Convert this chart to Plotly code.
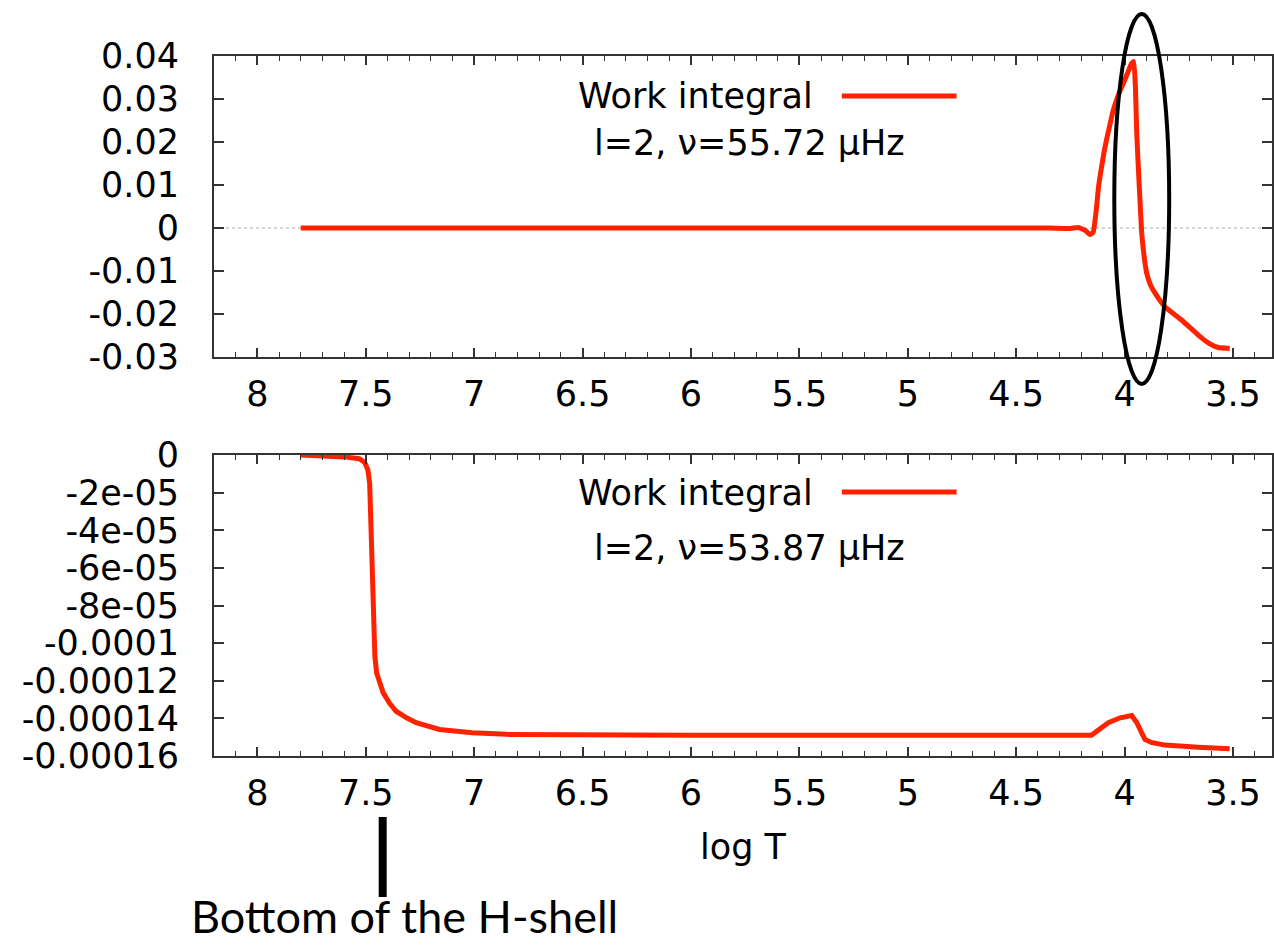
import plotly.graph_objects as go

# ---- data: cumulative work integral vs log T for two l=2 modes ----
top_logT = [7.80, 7.40, 7.00, 6.50, 6.00, 5.50, 5.00, 4.60, 4.35, 4.25, 4.213, 4.18,
            4.16, 4.145, 4.13, 4.12, 4.105, 4.09, 4.07, 4.052, 4.03, 4.006, 3.985,
            3.967, 3.958, 3.95, 3.944, 3.932, 3.921, 3.91,
            3.898, 3.88, 3.86, 3.814, 3.737, 3.66, 3.614, 3.568, 3.515]
top_work = [0.0, 0.0, 0.0, 0.0, 0.0, 0.0, 0.0, 0.0, 0.0, -0.0001, 0.0001, -0.0006,
            -0.0015, -0.001, 0.0045, 0.0096, 0.0145, 0.0189, 0.0235, 0.0274, 0.0308,
            0.0336, 0.0362, 0.0383, 0.0387, 0.0330, 0.0221, 0.0095, -0.0012, -0.0065,
            -0.0105, -0.0133, -0.0151, -0.0183, -0.0214, -0.0249, -0.0267, -0.0278, -0.0280]

bot_logT = [7.80, 7.70, 7.60, 7.53, 7.505, 7.49, 7.482, 7.478, 7.474, 7.470, 7.465,
            7.458, 7.45, 7.435, 7.42, 7.39, 7.36, 7.31, 7.267, 7.16, 7.01, 6.85,
            6.50, 6.00, 5.50, 5.00, 4.50, 4.20, 4.153, 4.075, 4.02, 3.967, 3.944,
            3.921, 3.906, 3.877, 3.814, 3.66, 3.515]
bot_work = [0.0, -0.4e-6, -1.0e-6, -2e-6, -4e-6, -8e-6, -1.5e-5, -3e-5, -5e-5, -7.5e-5, -9.5e-5,
            -0.000107, -0.0001157, -0.000122, -0.0001263, -0.000132, -0.0001362, -0.0001398,
            -0.0001423, -0.0001459, -0.0001477, -0.0001485,
            -0.0001489, -0.000149, -0.000149, -0.000149, -0.000149, -0.000149, -0.000149,
            -0.0001423, -0.0001397, -0.0001385, -0.0001422,
            -0.0001477, -0.0001512, -0.0001528, -0.0001542, -0.0001553, -0.0001561]

x_ticks = [8, 7.5, 7, 6.5, 6, 5.5, 5, 4.5, 4, 3.5]
x_ticktext = ["8", "7.5", "7", "6.5", "6", "5.5", "5", "4.5", "4", "3.5"]
top_yticks = [0.04, 0.03, 0.02, 0.01, 0, -0.01, -0.02, -0.03]
top_yticktext = ["0.04", "0.03", "0.02", "0.01", "0", "-0.01", "-0.02", "-0.03"]
bot_yticks = [0, -2e-5, -4e-5, -6e-5, -8e-5, -1e-4, -1.2e-4, -1.4e-4, -1.6e-4]
bot_yticktext = ["0", "-2e-05", "-4e-05", "-6e-05", "-8e-05", "-0.0001",
                 "-0.00012", "-0.00014", "-0.00016"]

top_label = "l=2, \u03bd=55.72 \u03bcHz"
bot_label = "l=2, \u03bd=53.87 \u03bcHz"

# ---- page geometry (pixels) ----
W, H = 1274, 945
L, R, T, B = 214, 0, 56, 189
PW, PH = W - L - R, H - T - B


def px(xp):
    return (xp - L) / PW


def py(yp):
    return (H - B - yp) / PH


RED = "#ff2200"
FONT = "DejaVu Sans"
TICKFONT = dict(family=FONT, size=35, color="black")

fig = go.Figure()
fig.add_trace(go.Scatter(x=top_logT, y=top_work, mode="lines",
                         line=dict(color=RED, width=5, shape="spline", smoothing=0.4),
                         xaxis="x", yaxis="y", showlegend=False))
fig.add_trace(go.Scatter(x=bot_logT, y=bot_work, mode="lines",
                         line=dict(color=RED, width=5), xaxis="x2", yaxis="y2",
                         showlegend=False))

xcommon = dict(range=[8.2, 3.32], tickvals=x_ticks, ticktext=x_ticktext,
               ticks="inside", ticklen=9, tickwidth=1.5, tickcolor="#333",
               mirror="allticks", showline=True, linecolor="#333", linewidth=2,
               showgrid=False, zeroline=False, tickfont=TICKFONT,
               minor=dict(dtick=0.1, tick0=0, ticks="inside", ticklen=5,
                          tickwidth=1.2, tickcolor="#333", showgrid=False),
               ticklabelstandoff=5)
ycommon = dict(ticks="inside", ticklen=10, tickwidth=1.5, tickcolor="#333",
               mirror="allticks", showline=True, linecolor="#333", linewidth=2,
               showgrid=False, zeroline=False, tickfont=TICKFONT,
               ticklabelstandoff=26)

fig.update_layout(
    width=W, height=H,
    margin=dict(l=L, r=R, t=T, b=B),
    paper_bgcolor="white", plot_bgcolor="white",
    xaxis=dict(**xcommon, anchor="y"),
    yaxis=dict(**ycommon, range=[-0.03, 0.04], tickvals=top_yticks,
               ticktext=top_yticktext, domain=[py(357), 1.0], anchor="x"),
    xaxis2=dict(**xcommon, anchor="y2"),
    yaxis2=dict(**ycommon, range=[-0.00016, 0], tickvals=bot_yticks,
                ticktext=bot_yticktext, domain=[0.0, py(455)], anchor="x2"),
)

shapes = [
    # zero axis of the upper panel
    dict(type="line", xref="x domain", yref="y", x0=0, x1=1, y0=0, y1=0,
         line=dict(color="#aaaaaa", width=1, dash="dot"), layer="below"),
    # key samples
    dict(type="line", xref="paper", yref="paper", x0=px(843), x1=px(958),
         y0=py(96), y1=py(96), line=dict(color=RED, width=5)),
    dict(type="line", xref="paper", yref="paper", x0=px(843), x1=px(958),
         y0=py(492), y1=py(492), line=dict(color=RED, width=5)),
    # highlight of the driving region
    dict(type="circle", xref="paper", yref="paper", x0=px(1116), x1=px(1171),
         y0=py(384), y1=py(14), line=dict(color="black", width=4)),
    # marker for the bottom of the H-burning shell
    dict(type="line", xref="paper", yref="paper", x0=px(383), x1=px(383),
         y0=py(817), y1=py(897), line=dict(color="black", width=8)),
]

annotations = [
    dict(text="Work integral", x=px(816), y=py(96), xanchor="right", yanchor="middle"),
    dict(text=top_label, x=px(751), y=py(143), xanchor="center", yanchor="middle"),
    dict(text="Work integral", x=px(816), y=py(493), xanchor="right", yanchor="middle"),
    dict(text=bot_label, x=px(751), y=py(548), xanchor="center", yanchor="middle"),
    dict(text="log T", x=px(744), y=py(847), xanchor="center", yanchor="middle"),
]
for a in annotations:
    a.update(xref="paper", yref="paper", showarrow=False,
             font=dict(family=FONT, size=35, color="black"))
annotations.append(dict(text="Bottom of the H-shell", x=px(405), y=py(945),
                        xref="paper", yref="paper", showarrow=False,
                        xanchor="center", yanchor="bottom",
                        font=dict(family="Lato", size=45, color="black")))

fig.update_layout(shapes=shapes, annotations=annotations)
fig.write_html("out.html")
